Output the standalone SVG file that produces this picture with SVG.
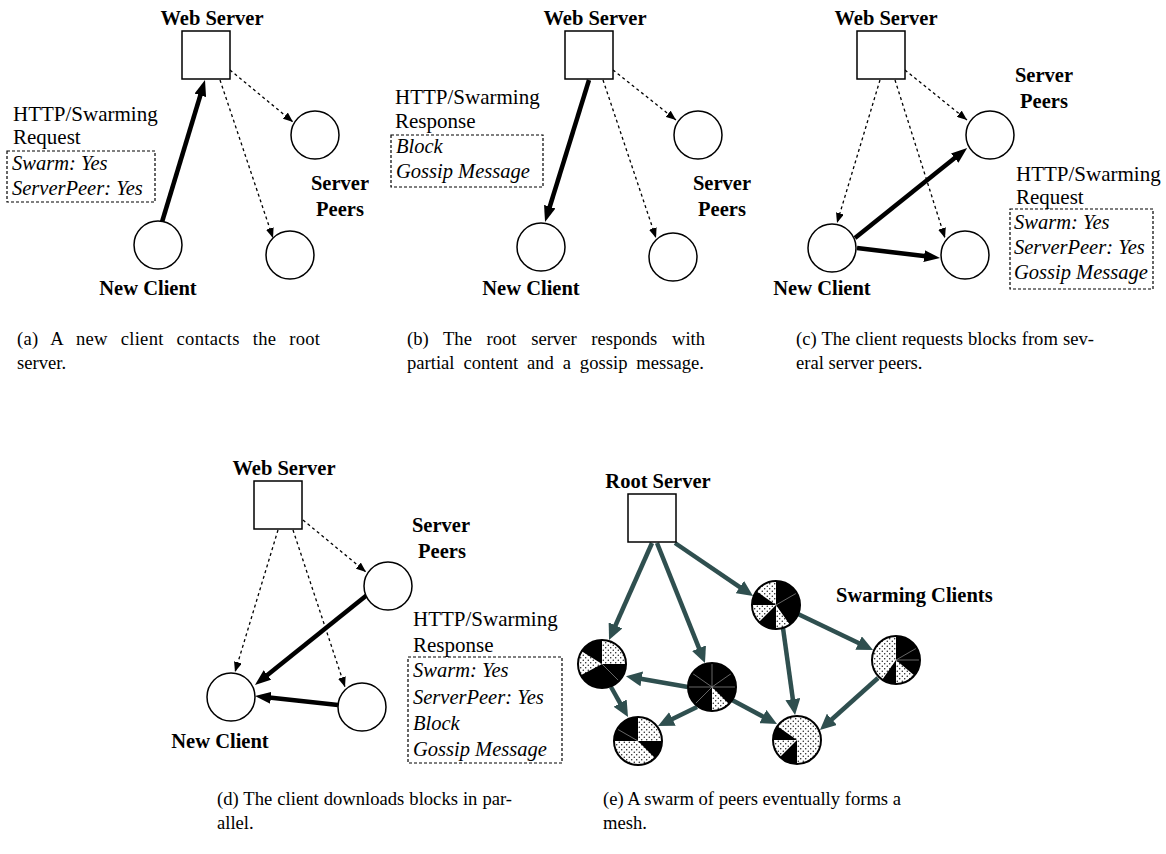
<svg xmlns="http://www.w3.org/2000/svg" width="1166" height="854" viewBox="0 0 1166 854">
<style>
text{font-family:"Liberation Serif","Times New Roman",serif;fill:#000}
.b{font-weight:bold;font-size:20.5px;text-anchor:middle}
.r{font-size:21px}
.i{font-size:20.5px;font-style:italic}
.c{font-size:18.6px}
.sq{fill:#fff;stroke:#000;stroke-width:1.5}
.nd{fill:#fff;stroke:#000;stroke-width:1.5}
.bx{fill:none;stroke:#000;stroke-width:1.2;stroke-dasharray:3,2}
.dl{fill:none;stroke:#000;stroke-width:1.3;stroke-dasharray:3,3;marker-end:url(#ad)}
.tl{fill:none;stroke:#000;stroke-width:4.5;marker-end:url(#at)}
.gl{fill:none;stroke:#2f4f4f;stroke-width:4.5;marker-end:url(#ag)}
.pb{fill:#000}
.pd{fill:url(#dots)}
.po{fill:none;stroke:#000;stroke-width:2}
.gr{stroke:#808080;stroke-width:0.8}
</style>
<defs>
<marker id="ad" markerUnits="userSpaceOnUse" markerWidth="10" markerHeight="8" refX="10" refY="4" orient="auto"><path d="M0,0 L10,4 L0,8 Z" fill="#000"/></marker>
<marker id="at" markerUnits="userSpaceOnUse" markerWidth="16" markerHeight="12" refX="4" refY="6" orient="auto"><path d="M0,0 L16,6 L0,12 Z" fill="#000"/></marker>
<marker id="ag" markerUnits="userSpaceOnUse" markerWidth="16" markerHeight="15" refX="4" refY="7.5" orient="auto"><path d="M0,0 L16,7.5 L0,15 Z" fill="#2f4f4f"/></marker>
<pattern id="dots" patternUnits="userSpaceOnUse" width="5" height="5"><rect width="5" height="5" fill="#fff"/><circle cx="1.25" cy="1.25" r="0.65" fill="#000"/><circle cx="3.75" cy="3.75" r="0.65" fill="#000"/></pattern>
</defs>

<!-- Panel (a) -->
<g id="a-connectors">
<path class="dl" d="M230,70 L293,122"/>
<path class="dl" d="M220,80 L273,238"/>
<path class="tl" d="M162,222 L201.5,91.5"/>
</g>
<g id="a-server"><text class="b" x="212" y="25">Web Server</text><rect class="sq" x="182" y="31" width="48" height="48"/></g>
<g id="a-peer1"><circle class="nd" cx="315" cy="135" r="24"/></g>
<g id="a-peer2"><circle class="nd" cx="290" cy="255" r="24"/></g>
<g id="a-peers-label"><text class="b" x="340" y="190">Server</text><text class="b" x="340" y="216">Peers</text></g>
<g id="a-client"><circle class="nd" cx="158" cy="245" r="24"/><text class="b" x="148" y="295">New Client</text></g>
<g id="a-message"><text class="r" x="13" y="121">HTTP/Swarming</text><text class="r" x="13" y="144">Request</text><rect class="bx" x="7" y="151" width="148" height="51"/><text class="i" x="12" y="170">Swarm: Yes</text><text class="i" x="12" y="195">ServerPeer: Yes</text></g>

<!-- Panel (b) -->
<g id="b-connectors">
<path class="dl" d="M613,70 L676,120"/>
<path class="dl" d="M603,80 L656,238"/>
<path class="tl" d="M589,80 L548.6,210.5"/>
</g>
<g id="b-server"><text class="b" x="595" y="25">Web Server</text><rect class="sq" x="565" y="31" width="48" height="48"/></g>
<g id="b-peer1"><circle class="nd" cx="698" cy="135" r="24"/></g>
<g id="b-peer2"><circle class="nd" cx="673" cy="257" r="24"/></g>
<g id="b-peers-label"><text class="b" x="722" y="190">Server</text><text class="b" x="722" y="216">Peers</text></g>
<g id="b-client"><circle class="nd" cx="541" cy="247" r="24"/><text class="b" x="531" y="295">New Client</text></g>
<g id="b-message"><text class="r" x="395" y="104">HTTP/Swarming</text><text class="r" x="395" y="128">Response</text><rect class="bx" x="391" y="135" width="152" height="52"/><text class="i" x="396" y="153">Block</text><text class="i" x="396" y="178">Gossip Message</text></g>

<!-- Panel (c) -->
<g id="c-connectors">
<path class="dl" d="M880,80 L837,223"/>
<path class="dl" d="M895,80 L945,238"/>
<path class="dl" d="M905,70 L967,120"/>
<path class="tl" d="M855,238 L957.8,155.6"/>
<path class="tl" d="M857,248 L928.1,256.6"/>
</g>
<g id="c-server"><text class="b" x="886" y="25">Web Server</text><rect class="sq" x="857" y="31" width="48" height="48"/></g>
<g id="c-peer1"><circle class="nd" cx="990" cy="135" r="24"/></g>
<g id="c-peer2"><circle class="nd" cx="965" cy="255" r="24"/></g>
<g id="c-peers-label"><text class="b" x="1044" y="82">Server</text><text class="b" x="1044" y="108">Peers</text></g>
<g id="c-client"><circle class="nd" cx="832" cy="248" r="24"/><text class="b" x="822" y="295">New Client</text></g>
<g id="c-message"><text class="r" x="1016" y="181">HTTP/Swarming</text><text class="r" x="1016" y="204">Request</text><rect class="bx" x="1010" y="209" width="143" height="80"/><text class="i" x="1014" y="229">Swarm: Yes</text><text class="i" x="1014" y="254">ServerPeer: Yes</text><text class="i" x="1014" y="279">Gossip Message</text></g>

<!-- Panel (d) -->
<g id="d-connectors">
<path class="dl" d="M278,530 L235,672"/>
<path class="dl" d="M293,530 L345,687"/>
<path class="dl" d="M303,520 L366,572"/>
<path class="tl" d="M367,595 L264.3,677.5"/>
<path class="tl" d="M338,705 L266.9,697.3"/>
</g>
<g id="d-server"><text class="b" x="284" y="475">Web Server</text><rect class="sq" x="254" y="481" width="48" height="48"/></g>
<g id="d-peer1"><circle class="nd" cx="388" cy="586" r="24"/></g>
<g id="d-peer2"><circle class="nd" cx="362" cy="707" r="24"/></g>
<g id="d-peers-label"><text class="b" x="441" y="532">Server</text><text class="b" x="442" y="558">Peers</text></g>
<g id="d-client"><circle class="nd" cx="231" cy="697" r="24"/><text class="b" x="220" y="748">New Client</text></g>
<g id="d-message"><text class="r" x="413" y="626">HTTP/Swarming</text><text class="r" x="413" y="652">Response</text><rect class="bx" x="408" y="657" width="154" height="106"/><text class="i" x="413" y="677">Swarm: Yes</text><text class="i" x="413" y="704">ServerPeer: Yes</text><text class="i" x="413" y="730">Block</text><text class="i" x="413" y="756">Gossip Message</text></g>

<!-- Panel (e) -->
<g id="e-connectors">
<path class="gl" d="M652,543 L613.9,629"/>
<path class="gl" d="M657,543 L700.5,651.9"/>
<path class="gl" d="M675,543 L743.1,589.3"/>
<path class="gl" d="M798,614 L862.2,644.8"/>
<path class="gl" d="M783,628 L793.4,703.1"/>
<path class="gl" d="M878,678 L828.9,722"/>
<path class="gl" d="M688,687 L637.8,678.2"/>
<path class="gl" d="M697,707 L668.8,720.7"/>
<path class="gl" d="M732,700 L766.4,718.4"/>
<path class="gl" d="M611,687 L622.1,706.6"/>
</g>
<g id="e-root"><text class="b" x="658" y="488">Root Server</text><rect class="sq" x="628" y="494" width="48" height="48"/></g>
<g id="e-label"><text class="b" x="836" y="602" style="text-anchor:start">Swarming Clients</text></g>
<g id="e-p1" transform="translate(776,605)">
<circle class="pb" r="24"/>
<path class="pd" d="M0,0 L13.77,19.66 A24,24 0 0 1 0,24 Z"/>
<path class="pd" d="M0,0 L-16.97,16.97 A24,24 0 0 1 -24,0 Z"/>
<path class="pd" d="M0,0 L-19.66,-13.77 A24,24 0 0 1 0,-24 Z"/>
<line class="gr" x1="0" y1="0" x2="20.78" y2="-12"/>
<circle class="po" r="24"/>
</g>
<g id="e-p2" transform="translate(896,660)">
<circle class="pb" r="24"/>
<path class="pd" d="M0,0 L18.38,15.43 A24,24 0 0 1 0,24 Z"/>
<path class="pd" d="M0,0 L-13.77,19.66 A24,24 0 0 1 0,-24 Z"/>
<line class="gr" x1="0" y1="0" x2="20.78" y2="-12"/>
<line class="gr" x1="0" y1="0" x2="24" y2="0"/>
<circle class="po" r="24"/>
</g>
<g id="e-p3" transform="translate(602,664)">
<circle class="pb" r="24"/>
<path class="pd" d="M0,0 L0,-24 A24,24 0 0 1 24,0 Z"/>
<path class="pd" d="M0,0 L-21.19,11.27 A24,24 0 0 1 -20.35,-12.72 Z"/>
<line class="gr" x1="0" y1="0" x2="17" y2="17"/>
<circle class="po" r="24"/>
</g>
<g id="e-p4" transform="translate(712,687)">
<circle class="pb" r="24"/>
<path class="pd" d="M0,0 L16.97,16.97 A24,24 0 0 1 0,24 Z"/>
<line class="gr" x1="0" y1="0" x2="0" y2="-24"/>
<line class="gr" x1="0" y1="0" x2="19.66" y2="-13.77"/>
<line class="gr" x1="0" y1="0" x2="24" y2="0"/>
<line class="gr" x1="0" y1="0" x2="-24" y2="0"/>
<line class="gr" x1="0" y1="0" x2="-19.66" y2="-13.77"/>
<line class="gr" x1="0" y1="0" x2="-16.97" y2="16.97"/>
<circle class="po" r="24"/>
</g>
<g id="e-p5" transform="translate(638,741)">
<circle class="pb" r="24"/>
<path class="pd" d="M0,0 L0,-24 A24,24 0 0 1 24,0 Z"/>
<path class="pd" d="M0,0 L16.97,16.97 A24,24 0 0 1 -24,0 Z"/>
<line class="gr" x1="0" y1="0" x2="-20.78" y2="-12"/>
<circle class="po" r="24"/>
</g>
<g id="e-p6" transform="translate(797,740)">
<circle class="pb" r="24"/>
<path class="pd" d="M0,0 L-16.97,16.97 A24,24 0 0 1 -24,0 Z"/>
<path class="pd" d="M0,0 L-19.66,-13.77 A24,24 0 1 1 0,24 Z"/>
<circle class="po" r="24"/>
</g>

<!-- Captions -->
<g id="captions">
<text class="c" x="17" y="345" word-spacing="7.9" textLength="303" lengthAdjust="spacing">(a) A new client contacts the root</text>
<text class="c" x="17" y="369">server.</text>
<text class="c" x="407" y="345" word-spacing="10.1" textLength="298" lengthAdjust="spacing">(b) The root server responds with</text>
<text class="c" x="407" y="369" word-spacing="4.2" textLength="297" lengthAdjust="spacing">partial content and a gossip message.</text>
<text class="c" x="796" y="345" word-spacing="0.4" textLength="298" lengthAdjust="spacing">(c) The client requests blocks from sev-</text>
<text class="c" x="796" y="369">eral server peers.</text>
<text class="c" x="217" y="805" word-spacing="0.3" textLength="295" lengthAdjust="spacing">(d) The client downloads blocks in par-</text>
<text class="c" x="217" y="829">allel.</text>
<text class="c" x="603" y="805" textLength="298" lengthAdjust="spacing">(e) A swarm of peers eventually forms a</text>
<text class="c" x="603" y="829">mesh.</text>
</g>
</svg>
